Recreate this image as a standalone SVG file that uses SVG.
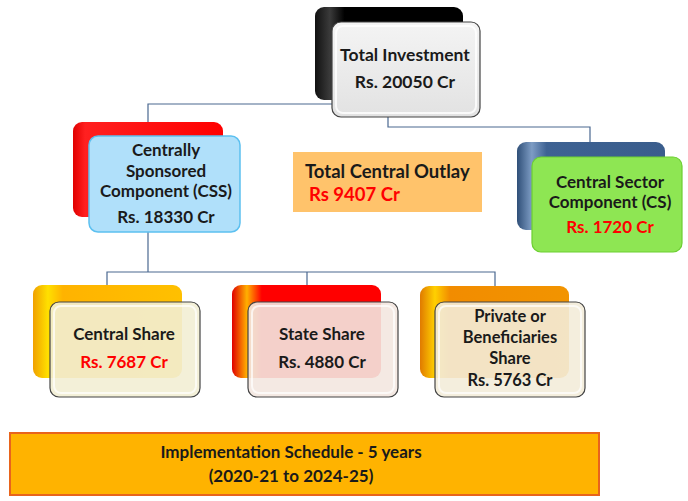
<svg xmlns="http://www.w3.org/2000/svg" width="688" height="501" viewBox="0 0 688 501">
<defs>
<linearGradient id="gBlack" x1="0" y1="0" x2="1" y2="0"><stop offset="0" stop-color="#111"/><stop offset="0.1" stop-color="#3a3a3a"/><stop offset="0.2" stop-color="#000"/><stop offset="1" stop-color="#000"/></linearGradient>
<linearGradient id="gGray" x1="0" y1="0" x2="0" y2="1"><stop offset="0" stop-color="#f4f4f4"/><stop offset="1" stop-color="#e2e2e2"/></linearGradient>
<linearGradient id="gRed" x1="0" y1="0" x2="1" y2="0"><stop offset="0" stop-color="#e00000"/><stop offset="0.08" stop-color="#ff2020"/><stop offset="1" stop-color="#ff0000"/></linearGradient>
<linearGradient id="gBlueBack" x1="0" y1="0" x2="1" y2="0"><stop offset="0" stop-color="#2f4f78"/><stop offset="0.1" stop-color="#7d9cc4"/><stop offset="0.2" stop-color="#3e6293"/><stop offset="1" stop-color="#3a5d8c"/></linearGradient>
<linearGradient id="gOrange" x1="0" y1="0" x2="1" y2="0"><stop offset="0" stop-color="#f0a000"/><stop offset="0.1" stop-color="#ffe000"/><stop offset="0.2" stop-color="#ffb300"/><stop offset="1" stop-color="#ffc000"/></linearGradient>
<linearGradient id="gOrange2" x1="0" y1="0" x2="1" y2="0"><stop offset="0" stop-color="#e07a00"/><stop offset="0.1" stop-color="#ffd000"/><stop offset="0.2" stop-color="#f28c00"/><stop offset="1" stop-color="#f29400"/></linearGradient>
<linearGradient id="gRed2" x1="0" y1="0" x2="1" y2="0"><stop offset="0" stop-color="#e00000"/><stop offset="0.1" stop-color="#ffb000"/><stop offset="0.2" stop-color="#ff0000"/><stop offset="1" stop-color="#ff0000"/></linearGradient>
</defs>
<style>
.t{font-family:Lato,"Liberation Sans",sans-serif;font-weight:bold;font-size:17px;fill:#1a1a1a;text-anchor:middle}
.r{fill:#ff0000}
.ln{fill:none;stroke:#4a6890;stroke-width:1.2}
.front{stroke:#444;stroke-width:1.2}
</style>
<g id="connectors">
<polyline class="ln" points="148,122 148,104 332,104"/>
<polyline class="ln" points="388,117 388,127 590,127 590,143"/>
<polyline class="ln" points="148,232 148,272"/>
<polyline class="ln" points="107,285 107,272 495,272 495,286"/>
<polyline class="ln" points="307,272 307,285"/>
</g>
<g id="total-investment">
<rect x="315" y="7" width="148" height="93" rx="9" fill="url(#gBlack)"/>
<rect x="332" y="22" width="148" height="95" rx="9" fill="url(#gGray)" class="front"/>
<rect x="336" y="26" width="140" height="87" rx="7" fill="none" stroke="#fff" stroke-width="2" opacity="0.8"/>
<text class="t" x="405" y="61" style="font-size:17.5px">Total Investment</text>
<text class="t" x="405" y="88" style="font-size:17.5px">Rs. 20050 Cr</text>
</g>
<g id="css">
<rect x="73" y="122" width="150" height="95" rx="9" fill="url(#gRed)"/>
<rect x="89" y="136" width="151" height="96" rx="9" fill="#b0e0fa" stroke="#5cc0f0" stroke-width="1.5"/>
<text class="t" x="166" y="156">Centrally</text>
<text class="t" x="166" y="177">Sponsored</text>
<text class="t" x="166" y="197">Component (CSS)</text>
<text class="t" x="166" y="223">Rs. 18330 Cr</text>
</g>
<g id="total-central-outlay">
<rect x="293" y="152" width="189" height="60" fill="#ffc36b"/>
<text class="t" x="305" y="178" style="text-anchor:start;font-size:18.5px">Total Central Outlay</text>
<text class="t r" x="309" y="201" style="text-anchor:start;font-size:18.5px">Rs 9407 Cr</text>
</g>
<g id="cs">
<rect x="517" y="142" width="148" height="88" rx="9" fill="url(#gBlueBack)"/>
<rect x="532" y="157" width="150" height="95" rx="9" fill="#8ee653" stroke="#6ccf30" stroke-width="1.2"/>
<text class="t" x="610" y="188">Central Sector</text>
<text class="t" x="610" y="208">Component (CS)</text>
<text class="t r" x="610" y="233">Rs. 1720 Cr</text>
</g>
<g id="central-share">
<rect x="33" y="285" width="149" height="93" rx="9" fill="url(#gOrange)"/>
<rect x="50" y="302" width="150" height="95" rx="9" fill="#f2eed4" fill-opacity="0.9" class="front"/>
<rect x="54" y="306" width="142" height="87" rx="7" fill="none" stroke="#fff" stroke-width="2" opacity="0.7"/>
<text class="t" x="124" y="340">Central Share</text>
<text class="t r" x="124" y="368">Rs. 7687 Cr</text>
</g>
<g id="state-share">
<rect x="232" y="285" width="149" height="93" rx="9" fill="url(#gRed2)"/>
<rect x="248" y="302" width="150" height="95" rx="9" fill="#f3e7e0" fill-opacity="0.9" class="front"/>
<rect x="252" y="306" width="142" height="87" rx="7" fill="none" stroke="#fff" stroke-width="2" opacity="0.7"/>
<text class="t" x="322" y="340">State Share</text>
<text class="t" x="322" y="368">Rs. 4880 Cr</text>
</g>
<g id="private-share">
<rect x="420" y="286" width="149" height="92" rx="9" fill="url(#gOrange2)"/>
<rect x="435" y="302" width="150" height="95" rx="9" fill="#f3ecd9" fill-opacity="0.9" class="front"/>
<rect x="439" y="306" width="142" height="87" rx="7" fill="none" stroke="#fff" stroke-width="2" opacity="0.7"/>
<text class="t" x="510" y="322" style="font-size:16.5px">Private or</text>
<text class="t" x="510" y="343" style="font-size:16.5px">Beneficiaries</text>
<text class="t" x="510" y="364" style="font-size:16.5px">Share</text>
<text class="t" x="510" y="386" style="font-size:16.5px">Rs. 5763 Cr</text>
</g>
<g id="schedule">
<rect x="10" y="433" width="589" height="62" fill="#ffb300" stroke="#e8641c" stroke-width="2"/>
<text class="t" x="291" y="458">Implementation Schedule - 5 years</text>
<text class="t" x="291" y="482">(2020-21 to 2024-25)</text>
</g>
</svg>
